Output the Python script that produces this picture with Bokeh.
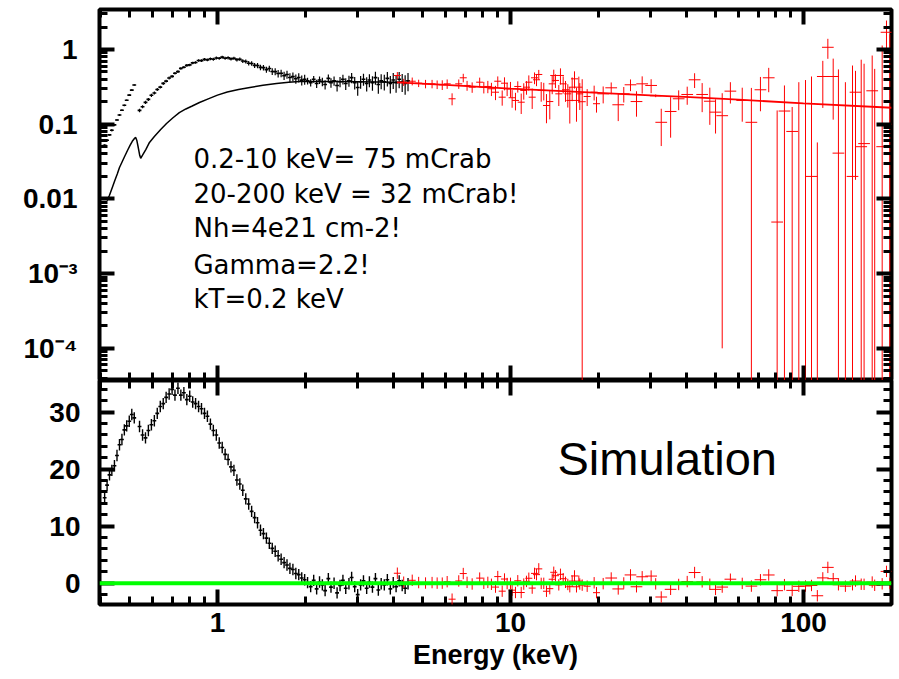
import numpy as np
from bokeh.plotting import figure
from bokeh.layouts import column
from bokeh.models import (Range1d, LogAxis, LinearAxis, LogTicker, SingleIntervalTicker,
                          CustomJSTickFormatter, Span, Label, ColumnDataSource)
from bokeh.embed import file_html
from bokeh.resources import INLINE

# ---------------- data ----------------
# soft X-ray (black) data: energy (keV), flux, 1-sigma error, residual (sigma)
black_energy = [
    0.412, 0.420, 0.428, 0.436, 0.445, 0.454, 0.463, 0.472, 0.481, 0.490, 0.500, 0.510, 0.520,
    0.542, 0.555, 0.568, 0.581, 0.595, 0.609, 0.623, 0.638, 0.653, 0.668,
    0.684, 0.700, 0.716, 0.733, 0.750, 0.768, 0.786, 0.804, 0.823, 0.842,
    0.862, 0.882, 0.903, 0.924, 0.946, 0.968, 0.991, 1.014, 1.038, 1.062,
    1.087, 1.112, 1.138, 1.165, 1.192, 1.220, 1.249, 1.278, 1.308, 1.339,
    1.370, 1.402, 1.435, 1.469, 1.503, 1.538, 1.574, 1.611, 1.649, 1.688,
    1.727, 1.767, 1.809, 1.851, 1.894, 1.939, 1.984,
    2.03, 2.08, 2.13, 2.18, 2.23, 2.28, 2.33, 2.39, 2.44, 2.50, 2.56, 2.62,
    2.68, 2.74, 2.81, 2.87, 2.94, 3.01, 3.08, 3.15, 3.23, 3.30, 3.38, 3.46,
    3.54, 3.62, 3.71, 3.80, 3.89, 3.98, 4.07, 4.17, 4.27, 4.37, 4.47,
]
black_flux = [
    0.052, 0.061, 0.072, 0.083, 0.098, 0.114, 0.133, 0.154, 0.179, 0.209, 0.245, 0.286, 0.334,
    0.153, 0.171, 0.196, 0.215, 0.244, 0.262, 0.292, 0.314, 0.352, 0.377,
    0.416, 0.437, 0.481, 0.506, 0.558, 0.579, 0.613, 0.622, 0.662, 0.671,
    0.712, 0.710, 0.737, 0.726, 0.752, 0.741, 0.770, 0.762, 0.790, 0.765,
    0.774, 0.749, 0.762, 0.731, 0.741, 0.700, 0.692, 0.655, 0.650, 0.612,
    0.611, 0.576, 0.572, 0.538, 0.556, 0.508, 0.505, 0.477, 0.480, 0.447,
    0.463, 0.422, 0.433, 0.405, 0.421, 0.389, 0.398,
    0.38, 0.36, 0.40, 0.35, 0.39, 0.37, 0.34, 0.41, 0.36, 0.38, 0.33, 0.37,
    0.40, 0.35, 0.38, 0.42, 0.36, 0.31, 0.37, 0.40, 0.35, 0.39, 0.36, 0.42,
    0.34, 0.38, 0.37, 0.41, 0.35, 0.39, 0.36, 0.40, 0.37, 0.35, 0.38,
]
black_err = [
    0.002, 0.002, 0.002, 0.003, 0.003, 0.003, 0.004, 0.004, 0.005, 0.005, 0.006, 0.007, 0.008,
    0.008, 0.008, 0.010, 0.010, 0.012, 0.012, 0.014, 0.014, 0.016, 0.016,
    0.018, 0.018, 0.020, 0.020, 0.022, 0.022, 0.024, 0.024, 0.026, 0.026,
    0.028, 0.028, 0.030, 0.030, 0.032, 0.032, 0.034, 0.034, 0.036, 0.036,
    0.038, 0.038, 0.040, 0.040, 0.042, 0.042, 0.044, 0.044, 0.046, 0.046,
    0.048, 0.048, 0.050, 0.050, 0.052, 0.052, 0.054, 0.054, 0.056, 0.056,
    0.057, 0.057, 0.058, 0.058, 0.059, 0.059, 0.060,
    0.040, 0.041, 0.042, 0.044, 0.046, 0.047, 0.049, 0.051, 0.053, 0.054, 0.056, 0.058,
    0.060, 0.062, 0.064, 0.066, 0.068, 0.070, 0.072, 0.074, 0.076, 0.078, 0.080, 0.082,
    0.084, 0.086, 0.088, 0.090, 0.092, 0.094, 0.096, 0.098, 0.100, 0.102, 0.104,
]
black_resid = [
    15.0, 17.2, 19.0, 19.8, 20.6, 22.4, 24.3, 25.2, 26.9, 27.6, 28.4, 29.6, 29.0,
    27.5, 26.0, 25.5, 26.8, 27.8, 28.5, 29.8, 31.0, 31.5, 32.6,
    33.2, 34.0, 33.0, 34.2, 33.0, 33.4, 32.2, 32.8, 31.8, 31.5,
    31.0, 30.6, 29.8, 29.3, 27.9, 26.8, 26.0, 24.6, 23.8, 22.6,
    21.7, 20.4, 19.8, 18.1, 17.4, 16.3, 14.8, 13.9, 12.6, 11.5,
    10.6, 9.3, 8.7, 7.9, 7.0, 6.1, 5.6, 4.8, 4.2, 3.6,
    3.2, 2.6, 2.4, 1.7, 1.5, 0.9, 0.6,
    0.1, -0.6, 0.5, -1.0, 0.2, -0.3, -1.3, 0.8, -0.7, 0.0, -1.7, -0.4,
    0.5, -0.9, -0.1, 1.0, -0.6, -2.0, -0.3, 0.4, -0.9, 0.2, -0.7, 0.8,
    -1.2, -0.1, -0.3, 0.6, -1.0, 0.1, -0.6, 0.4, -0.4, -0.9, -0.1,
]

# black model curve
black_model_energy = [
    0.420, 0.428, 0.437, 0.446, 0.455, 0.463, 0.472, 0.482, 0.493, 0.503, 0.512, 0.520,
    0.526, 0.531, 0.537, 0.543, 0.547, 0.555, 0.570, 0.586, 0.610, 0.640, 0.670, 0.705,
    0.741, 0.780, 0.820, 0.868, 0.930, 1.000, 1.080, 1.180, 1.290, 1.430, 1.590, 1.750,
    1.900, 2.200, 2.600, 3.000, 3.500, 4.000, 4.300,
]
black_model_flux = [
    0.0095, 0.0112, 0.0140, 0.0175, 0.0215, 0.0263, 0.0310, 0.0370, 0.0445, 0.0520, 0.0590, 0.0640,
    0.0665, 0.0600, 0.0480, 0.0380, 0.0350, 0.0385, 0.0460, 0.0570, 0.0690, 0.0850, 0.1020, 0.1220,
    0.1430, 0.1600, 0.1750, 0.1950, 0.2180, 0.2450, 0.2700, 0.2920, 0.3100, 0.3320, 0.3500, 0.3630,
    0.3730, 0.3740, 0.3720, 0.3690, 0.3660, 0.3630, 0.3610,
]

# hard X-ray (red) data: energy (keV), flux, 1-sigma error
red_energy = [
    4.11, 4.32, 4.62, 4.86, 5.13, 5.40, 5.62, 5.85, 6.08, 6.32, 6.66, 6.90, 7.11, 7.40, 7.85,
    8.11, 8.37, 8.61, 8.89, 9.05, 9.37, 9.54, 9.74, 10.0, 10.13, 10.4, 10.59, 10.88, 11.1,
    11.34, 11.55, 11.86, 12.08, 12.27, 12.49, 12.73, 12.99, 13.27, 13.62, 13.88, 14.05,
    14.24, 14.62, 14.81, 15.13, 15.41, 15.69, 15.94, 16.24, 16.54, 16.80, 17.11, 17.24,
    17.57, 18.27, 19.30, 19.66, 20.72, 22.07, 23.32, 24.36, 25.68, 26.92, 28.15, 30.2,
    31.3, 32.7, 35.2, 37.5, 40.1, 42.5, 45.1, 47.9, 50.1, 52.8, 56.3, 61.8, 66.4, 71.3,
    76.1, 81.3, 86.1, 91.5, 96.4, 101.6, 106.5, 111.5, 116.4, 121.1, 126.3, 131.6, 139.0,
    147.0, 150.5, 157.4, 161.0, 171.6, 175.0, 185.6, 192.0, 197.0,
]
red_flux = [
    0.449, 0.365, 0.376, 0.354, 0.347, 0.347, 0.340, 0.337, 0.347, 0.219, 0.347, 0.418, 0.330, 0.313, 0.365,
    0.313, 0.320, 0.298, 0.268, 0.376, 0.230, 0.354, 0.298, 0.298, 0.226, 0.208, 0.320, 0.197, 0.283,
    0.313, 0.365, 0.230, 0.418, 0.393, 0.463, 0.283, 0.283, 0.178, 0.201, 0.347, 0.449,
    0.385, 0.255, 0.449, 0.347, 0.289, 0.255, 0.208, 0.313, 0.405, 0.208, 0.313, 0.255,
    0.200, 0.235, 0.268, 0.188, 0.255, 0.307, 0.182, 0.255, 0.337, 0.201, 0.347, 0.330,
    0.240, 0.106, 0.148, 0.219, 0.250, 0.393, 0.250, 0.203, 0.145, 0.130, 0.277, 0.208, 0.106, 0.289,
    0.418, 0.0049, 0.150, 0.080, -0.020, -0.010, 0.020, -0.050, 0.435, 1.070, 0.435, 0.041, -0.030,
    0.020, 0.268, 0.050, 0.055, 0.280, -0.050, 0.050, 1.700, 0.100,
]
red_err = [
    0.050, 0.040, 0.045, 0.040, 0.045, 0.045, 0.045, 0.050, 0.050, 0.040, 0.050, 0.055, 0.050, 0.050, 0.055,
    0.055, 0.060, 0.060, 0.058, 0.060, 0.053, 0.070, 0.060, 0.070, 0.060, 0.055, 0.055, 0.060, 0.070,
    0.065, 0.085, 0.070, 0.075, 0.070, 0.070, 0.083, 0.075, 0.075, 0.085, 0.095, 0.088,
    0.080, 0.080, 0.110, 0.090, 0.090, 0.088, 0.106, 0.110, 0.105, 0.100, 0.120, 0.100,
    0.200, 0.060, 0.060, 0.045, 0.065, 0.055, 0.072, 0.060, 0.060, 0.075, 0.090, 0.070,
    0.010, 0.055, 0.082, 0.065, 0.068, 0.088, 0.105, 0.105, 0.070, 0.1299, 0.088, 0.100, 0.200, 0.140,
    0.150, 0.148, 0.180, 0.090, 0.385, 0.400, 0.415, 0.107, 0.270, 0.320, 0.320, 0.500, 0.395,
    0.590, 0.250, 0.680, 0.590, 0.550, 0.600, 1.080, 0.740, 1.500,
]

# red model (power law, Gamma = 2.2)
red_model_energy = [4.1, 6.0, 10.0, 20.0, 30.0, 41.0, 60.0, 100.0, 200.0]
red_model_flux = [0.362, 0.335, 0.300, 0.262, 0.243, 0.230, 0.213, 0.190, 0.166]

# tick labels
x_tick_values = [1.0, 10.0, 100.0]
x_tick_labels = ["1", "10", "100"]
flux_tick_values = [1.0, 0.1, 0.01, 1e-3, 1e-4]
flux_tick_labels = ["1", "0.1", "0.01", "10\u207b\u00b3", "10\u207b\u2074"]

annotation_lines = ["0.2-10 keV= 75 mCrab", "20-200 keV = 32 mCrab!", "Nh=4e21 cm-2!",
                    "Gamma=2.2!", "kT=0.2 keV"]

# ---------------- layout constants ----------------
E_MIN, E_MAX = 0.3957, 199.7
FLUX_MIN, FLUX_MAX = 3.71e-5, 3.43
RES_MIN, RES_MAX = -3.74, 35.56
BLACK_BIN_DEX = 0.0065
RED_BIN_DEX_LOW, RED_BIN_DEX_HIGH = 0.012, 0.02
LOG_FLOOR = 1e-9
TICK_FONT = "Liberation Sans"

be = np.array(black_energy)
bf = np.array(black_flux)
berr = np.array(black_err)
bres = np.array(black_resid)
re_ = np.array(red_energy)
rf = np.array(red_flux)
rerr = np.array(red_err)

# red residuals from data and model
rmod = 10 ** np.interp(np.log10(re_), np.log10(red_model_energy), np.log10(red_model_flux))
rres = (rf - rmod) / rerr

bfac = 10 ** BLACK_BIN_DEX
rfac = 10 ** np.where(re_ < 20, RED_BIN_DEX_LOW, RED_BIN_DEX_HIGH)

black_src = ColumnDataSource(dict(
    e=be, elo=be / bfac, ehi=be * bfac, f=bf,
    flo=np.clip(bf - berr, LOG_FLOOR, None), fhi=bf + berr,
    r=bres, rlo=bres - 1, rhi=bres + 1))
red_src = ColumnDataSource(dict(
    e=re_, elo=re_ / rfac, ehi=re_ * rfac,
    f=np.where(rf > 0, rf, np.nan),
    flo=np.clip(rf - rerr, LOG_FLOOR, None), fhi=rf + rerr,
    r=rres, rlo=rres - 1, rhi=rres + 1))

LOOKUP_CODE = """
for (let i = 0; i < vals.length; i++) {
  if (Math.abs(Math.log10(tick) - Math.log10(vals[i])) < 1e-6) { return labs[i]; }
}
return "";
"""
x_fmt = CustomJSTickFormatter(args=dict(vals=x_tick_values, labs=x_tick_labels), code=LOOKUP_CODE)
y_fmt = CustomJSTickFormatter(args=dict(vals=flux_tick_values, labs=flux_tick_labels), code=LOOKUP_CODE)


def style_axis(ax, standoff=0, size="28px"):
    ax.axis_line_color = None
    ax.major_tick_in = 15
    ax.major_tick_out = 0
    ax.minor_tick_in = 8
    ax.minor_tick_out = 0
    ax.major_tick_line_width = 4
    ax.minor_tick_line_width = 3
    ax.major_tick_line_color = "black"
    ax.minor_tick_line_color = "black"
    ax.major_label_text_font = TICK_FONT
    ax.major_label_text_font_style = "bold"
    ax.major_label_text_font_size = size
    ax.major_label_text_color = "black"
    ax.major_label_standoff = standoff


def ticks_only(ax, loc):
    """An axis fixed on a frame edge: ticks only, no labels, takes no space."""
    style_axis(ax)
    ax.formatter = CustomJSTickFormatter(code="return '';")
    ax.major_label_text_color = None
    ax.fixed_location = loc
    return ax


def log_x_ticker():
    return LogTicker(num_minor_ticks=10, desired_num_ticks=4)


x_range = Range1d(E_MIN, E_MAX)

# ---------------- top panel ----------------
top = figure(width=899, height=380, x_axis_type="log", y_axis_type="log",
             x_range=x_range, y_range=Range1d(FLUX_MIN, FLUX_MAX),
             x_axis_location=None, y_axis_location=None,
             output_backend="svg", toolbar_location=None,
             min_border_left=99, min_border_right=8, min_border_top=9, min_border_bottom=0,
             background_fill_color="white", border_fill_color="white")
top.outline_line_color = "black"
top.outline_line_width = 4
for g in top.grid:
    g.visible = False

ly = LogAxis(ticker=LogTicker(num_minor_ticks=10, desired_num_ticks=8), formatter=y_fmt)
style_axis(ly, 22)
top.add_layout(ly, "left")
top.add_layout(ticks_only(LogAxis(ticker=LogTicker(num_minor_ticks=10, desired_num_ticks=8)), E_MAX), "right")
top.add_layout(ticks_only(LogAxis(ticker=log_x_ticker()), FLUX_MAX), "above")
top.add_layout(ticks_only(LogAxis(ticker=log_x_ticker()), FLUX_MIN), "below")

top.line(black_model_energy, black_model_flux, line_color="black", line_width=1.5)
top.segment(x0="e", y0="flo", x1="e", y1="fhi", source=black_src, line_color="black", line_width=1.2)
top.segment(x0="elo", y0="f", x1="ehi", y1="f", source=black_src, line_color="black", line_width=1.6)
top.segment(x0="e", y0="flo", x1="e", y1="fhi", source=red_src, line_color="#ff0000", line_width=1)
top.segment(x0="elo", y0="f", x1="ehi", y1="f", source=red_src, line_color="#ff0000", line_width=1)
top.line(red_model_energy, red_model_flux, line_color="#ff0000", line_width=1.8)

text_y = [0.0347, 0.01181, 0.00402, 0.001324, 0.000451]
for txt, yv in zip(annotation_lines, text_y):
    top.add_layout(Label(x=0.828, y=yv, text=txt, text_font="DejaVu Sans",
                         text_font_size="26px", text_color="black",
                         text_baseline="alphabetic", text_align="left"))

# ---------------- bottom panel ----------------
bot = figure(width=899, height=299, x_axis_type="log",
             x_range=x_range, y_range=Range1d(RES_MIN, RES_MAX),
             x_axis_location=None, y_axis_location=None,
             output_backend="svg", toolbar_location=None,
             min_border_left=99, min_border_right=8, min_border_top=0, min_border_bottom=75,
             background_fill_color="white", border_fill_color="white")
bot.outline_line_color = "black"
bot.outline_line_width = 4
for g in bot.grid:
    g.visible = False

lr = LinearAxis(ticker=SingleIntervalTicker(interval=10, num_minor_ticks=5))
style_axis(lr, 19)
bot.add_layout(lr, "left")
bot.add_layout(ticks_only(LinearAxis(ticker=SingleIntervalTicker(interval=10, num_minor_ticks=5)), E_MAX), "right")
bot.add_layout(ticks_only(LogAxis(ticker=log_x_ticker()), RES_MAX), "above")
bx = LogAxis(ticker=log_x_ticker(), formatter=x_fmt)
style_axis(bx, 8)
bx.axis_label = "Energy (keV)"
bx.axis_label_text_font = TICK_FONT
bx.axis_label_text_font_style = "bold"
bx.axis_label_text_font_size = "27px"
bx.axis_label_text_color = "black"
bx.axis_label_standoff = 5
bot.add_layout(bx, "below")

bot.segment(x0="e", y0="rlo", x1="e", y1="rhi", source=black_src, line_color="black", line_width=1.4)
bot.segment(x0="elo", y0="r", x1="ehi", y1="r", source=black_src, line_color="black", line_width=1.6)
bot.segment(x0="e", y0="rlo", x1="e", y1="rhi", source=red_src, line_color="#ff0000", line_width=1)
bot.segment(x0="elo", y0="r", x1="ehi", y1="r", source=red_src, line_color="#ff0000", line_width=1)

bot.add_layout(Span(location=0, dimension="width", line_color="#00ff00", line_width=4))
bot.add_layout(Label(x=14.47, y=21.8, text="Simulation", text_font="Liberation Sans",
                     text_font_size="47px", text_color="black", text_baseline="alphabetic"))

layout = column(top, bot, spacing=0)
open("out.html", "w").write(file_html(layout, INLINE))
